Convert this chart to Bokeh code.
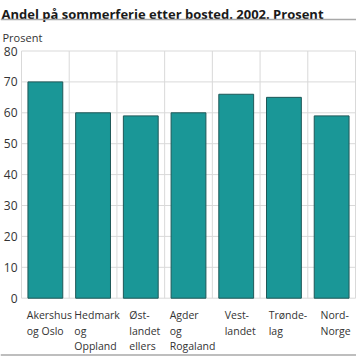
from bokeh.plotting import figure
from bokeh.models import Range1d, ColumnDataSource
from bokeh.core.properties import value
from bokeh.embed import file_html
from bokeh.resources import INLINE

# ---- data ----
categories = ["Akershus\nog Oslo", "Hedmark\nog\nOppland", "Øst-\nlandet\nellers",
              "Agder\nog\nRogaland", "Vest-\nlandet", "Trønde-\nlag", "Nord-\nNorge"]
values = [70, 60, 59, 60, 66, 65, 59]
yticks = [0, 10, 20, 30, 40, 50, 60, 70, 80]
title_text = "Andel på sommerferie etter bosted. 2002. Prosent"
unit_text = "Prosent"

# ---- layout (pixels) ----
W = H = 356
FONT = "Open Sans"
n = len(categories)
YMAX = yticks[-1]
frame_left_px, frame_right_px = 21, 355
frame_top_px, frame_bot_px = 50.5, 297.7
ppx = (frame_right_px - frame_left_px) / n
ppy = (frame_bot_px - frame_top_px) / YMAX
x_lo = -frame_left_px / ppx
x_hi = n + (W - frame_right_px) / ppx
y_hi = YMAX + frame_top_px / ppy
y_lo = -(H - frame_bot_px) / ppy


def px2x(px):
    return x_lo + px / ppx


def py2y(py):
    return y_hi - py / ppy


p = figure(width=W, height=H, x_range=Range1d(x_lo, x_hi), y_range=Range1d(y_lo, y_hi),
           output_backend="svg", toolbar_location=None,
           x_axis_type=None, y_axis_type=None, min_border=0)
p.outline_line_color = None
p.xgrid.visible = False
p.ygrid.visible = False

grid_col = "#d9d9d9"
# horizontal grid lines
p.segment(x0=[0] * len(yticks), x1=[n] * len(yticks), y0=yticks, y1=yticks,
          line_color=grid_col, line_width=1)
# vertical grid lines at category boundaries
bounds = list(range(n + 1))
p.segment(x0=bounds, x1=bounds, y0=[0] * len(bounds), y1=[YMAX] * len(bounds),
          line_color=grid_col, line_width=1)

# bars
src = ColumnDataSource(dict(x=[i + 0.5 for i in range(n)], top=values, label=categories))
p.vbar(x="x", top="top", bottom=0, width=0.73, source=src,
       fill_color="#1a9797", line_color="#1f5858", line_width=1)

# y tick labels
p.text(x=[px2x(frame_left_px - 4)] * len(yticks), y=yticks, text=[str(t) for t in yticks],
       text_align="right", text_baseline="middle", text_font=value(FONT),
       text_font_size="12px", text_color="#333333")

# x category labels
p.text(x="x", y=0, text="label", source=src, anchor="top_center", text_align="left",
       x_offset=4, y_offset=10, text_font=value(FONT), text_font_size="10.5px",
       text_color="#333333", text_line_height=1.1)

# title and unit
p.text(x=[px2x(1)], y=[py2y(13.5)], text=[title_text], text_align="left",
       text_baseline="alphabetic", text_font=value(FONT), text_font_size="13px",
       text_font_style="bold", text_color="#1a1a1a")
p.text(x=[px2x(2)], y=[py2y(36.7)], text=[unit_text], text_align="left",
       text_baseline="alphabetic", text_font=value(FONT), text_font_size="11px",
       text_color="#333333")

# decorative separator lines
for py in (19, 354.5):
    p.segment(x0=[x_lo], x1=[x_hi], y0=[py2y(py)], y1=[py2y(py)],
              line_color="#a8a8a8", line_width=1.5)

open("out.html", "w").write(file_html(p, INLINE))
